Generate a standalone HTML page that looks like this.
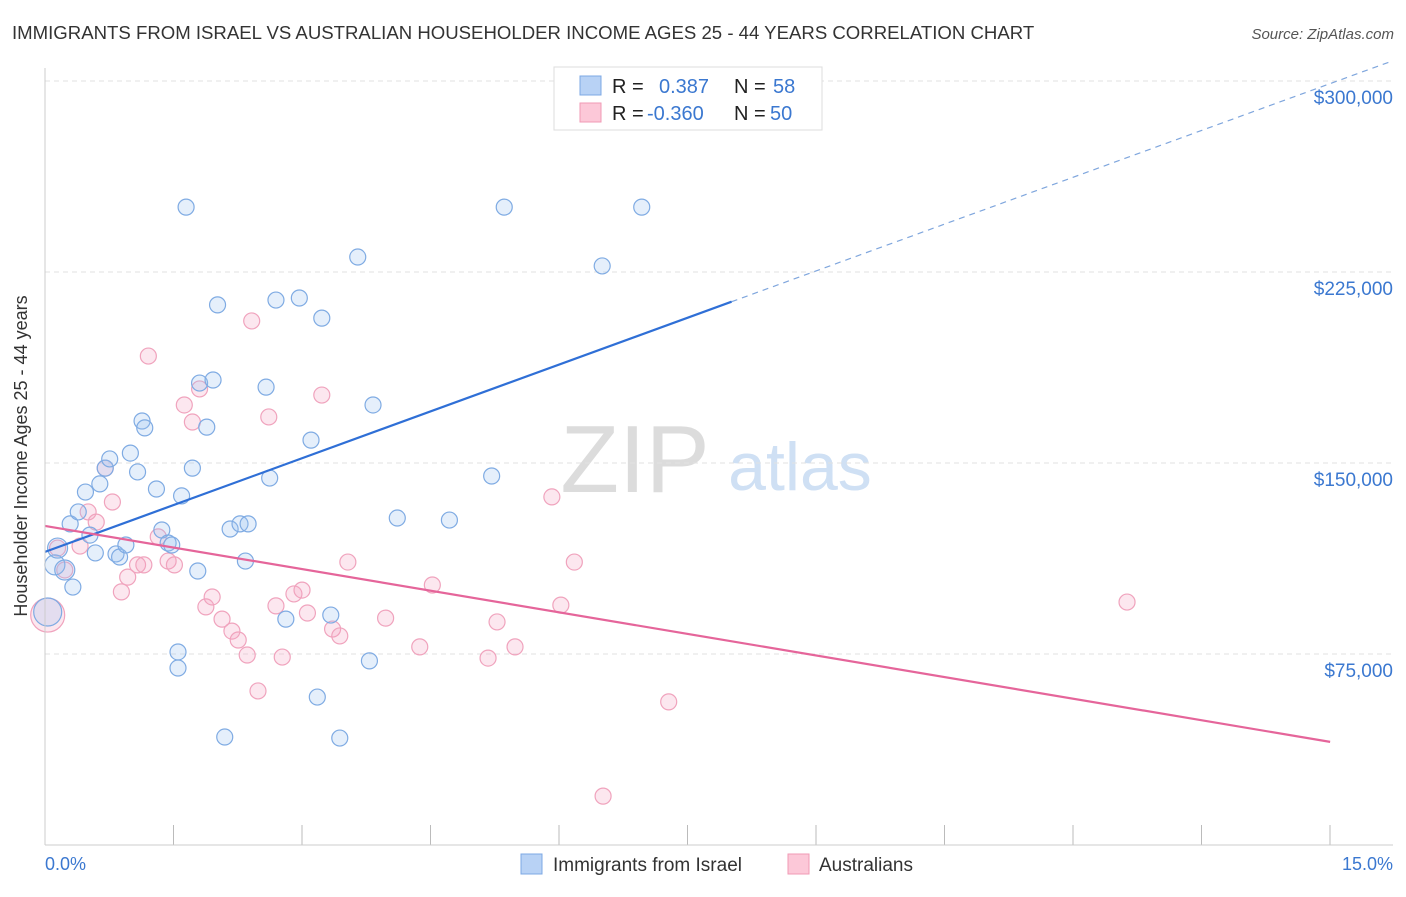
<!DOCTYPE html>
<html><head><meta charset="utf-8"><style>
body{margin:0;background:#fff;font-family:"Liberation Sans",sans-serif}
svg text{font-family:"Liberation Sans",sans-serif}
</style></head><body>
<svg id="c" width="1406" height="892" xmlns="http://www.w3.org/2000/svg">
<text x="12" y="39" font-size="18.6" fill="#333">IMMIGRANTS FROM ISRAEL VS AUSTRALIAN HOUSEHOLDER INCOME AGES 25 - 44 YEARS CORRELATION CHART</text>
<text x="1394" y="39" font-size="15" fill="#555" font-style="italic" text-anchor="end">Source: ZipAtlas.com</text>
<text x="635" y="492" font-size="96" fill="#dcdcdc" font-family="Liberation Serif" text-anchor="middle">ZIP</text>
<text x="800" y="490" font-size="68" fill="#cfe0f4" text-anchor="middle">atlas</text>
<g id="grid"></g><g id="pts"></g><g id="lines"></g>
<line x1="45" y1="845" x2="1393" y2="845" stroke="#ccc"/>
<line x1="45" y1="68" x2="45" y2="845" stroke="#ccc"/>
<text x="27" y="456" font-size="18" fill="#333" text-anchor="middle" transform="rotate(-90 27 456)">Householder Income Ages 25 - 44 years</text>
<text x="45" y="870" font-size="18" fill="#3b78d0">0.0%</text>
<text x="1393" y="870" font-size="18" fill="#3b78d0" text-anchor="end">15.0%</text>
<rect x="554" y="67" width="268" height="63" fill="#fff" stroke="#ddd"/>
<rect x="580" y="76" width="21" height="19" fill="#b8d2f5" stroke="#7ca8e4"/>
<rect x="580" y="103" width="21" height="19" fill="#fcc8d8" stroke="#f09ab5"/>
<g font-size="20">
<text x="612" y="93" fill="#222">R =</text><text x="659" y="93" fill="#3b78d0">0.387</text><text x="734" y="93" fill="#222">N =</text><text x="773" y="93" fill="#3b78d0">58</text>
<text x="612" y="120" fill="#222">R =</text><text x="647" y="120" fill="#3b78d0">-0.360</text><text x="734" y="120" fill="#222">N =</text><text x="770" y="120" fill="#3b78d0">50</text>
</g>
<rect x="521" y="854" width="21" height="20" fill="#b8d2f5" stroke="#7ca8e4"/>
<text x="553" y="871" font-size="19" fill="#333">Immigrants from Israel</text>
<rect x="788" y="854" width="21" height="20" fill="#fcc8d8" stroke="#f09ab5"/>
<text x="819" y="871" font-size="19" fill="#333">Australians</text>
</svg>
<script>
const yTicks=[75,150,225,300];
const yTickLabels=["$75,000","$150,000","$225,000","$300,000"];
const blueX=[0.11,0.14,0.22,0.28,0.31,0.37,0.45,0.50,0.56,0.61,0.67,0.72,0.79,0.83,0.90,0.95,1.03,1.08,1.11,1.24,1.30,1.37,1.41,1.48,1.52,1.57,1.64,1.70,1.72,1.80,1.87,1.92,2.00,2.06,2.17,2.26,2.23,2.46,2.50,2.57,2.68,2.83,2.96,3.03,3.08,3.18,3.28,3.48,3.61,3.65,3.92,4.50,4.97,5.11,6.20,6.64,0.03,1.48];
const blueY=[110.0,116.6,108.0,126.1,101.3,130.8,138.6,121.7,114.7,141.8,148.0,151.6,114.3,113.1,117.8,153.9,146.5,166.5,163.8,139.8,123.7,118.6,117.8,75.8,137.1,250.5,148.0,107.6,181.4,164.1,182.6,212.1,42.4,124.1,126.1,126.1,111.5,179.8,144.1,214.0,88.7,214.8,159.0,58.1,206.9,90.3,42.0,230.9,72.3,172.8,128.4,127.6,144.9,250.5,227.4,250.5,91.5,69.5];
const pinkX=[0.03,0.14,0.22,0.39,0.48,0.57,0.67,0.75,0.85,0.92,1.03,1.10,1.15,1.26,1.37,1.44,1.55,1.64,1.72,1.79,1.86,1.97,2.08,2.15,2.25,2.30,2.37,2.49,2.57,2.64,2.77,2.86,2.92,3.08,3.20,3.28,3.37,3.79,4.17,4.31,4.93,5.03,5.23,5.64,5.74,5.89,6.21,6.94,12.04];
const pinkY=[90.3,116.6,108.0,117.4,130.8,126.8,148.0,134.7,99.4,105.2,110.0,110.0,192.0,121.0,111.5,110.0,172.8,166.1,179.1,93.5,97.4,88.7,84.0,80.5,74.6,205.8,60.5,168.1,93.9,73.8,98.6,100.1,91.1,176.7,84.8,82.1,111.1,89.1,77.8,102.1,73.4,87.6,77.8,136.7,94.2,111.1,19.2,56.2,95.4];
const blueTrend=[115.1,12.86]; const pinkTrend=[125.3,-5.93];
const NS='http://www.w3.org/2000/svg';
const X=v=>45+v*89.87, Y=v=>845-v/0.3927;
function mk(t,a,p){const e=document.createElementNS(NS,t);for(const k in a)e.setAttribute(k,a[k]);p.appendChild(e);return e;}
const grid=document.getElementById('grid');
yTicks.forEach((t,i)=>{
 const l=mk('line',{x1:45,x2:1393,y1:Y(t),y2:Y(t),stroke:'#e2e2e2','stroke-dasharray':'5,4'},grid);
 
 
 const tx=mk('text',{x:1393,y:Y(t)+23,'font-size':19,fill:'#3b78d0','text-anchor':'end'},grid);
 tx.textContent=yTickLabels[i];
 
 
});
for(let i=0;i<=10;i++){
 const tk=mk('line',{x1:45+i*128.5,x2:45+i*128.5,y1:825,y2:845,stroke:'#bbb'},grid);
 
 
}
const pts=document.getElementById('pts');
pinkX.forEach((x,i)=>{
 const c=mk('circle',{cx:X(x),cy:Y(pinkY[i]),r:i===0?17:8,fill:'rgba(245,160,190,0.25)',stroke:'#f0a3bd','stroke-width':1.2},pts);
 
 
});
blueX.forEach((x,i)=>{
 const c=mk('circle',{cx:X(x),cy:Y(blueY[i]),r:i===56?14:(i<3?10:8),fill:'rgba(150,190,240,0.25)',stroke:'#7fabe3','stroke-width':1.2},pts);
 
 
});
const lines=document.getElementById('lines');
const bl=mk('line',{x1:X(0),y1:Y(blueTrend[0]),x2:X(7.64),y2:Y(blueTrend[0]+blueTrend[1]*7.64),stroke:'#2f6fd6','stroke-width':2.2},lines);


const bd=mk('line',{x1:X(7.64),y1:Y(blueTrend[0]+blueTrend[1]*7.64),x2:X(15),y2:Y(blueTrend[0]+blueTrend[1]*15),stroke:'#7fa6dd','stroke-width':1.2,'stroke-dasharray':'6,5'},lines);


const pl=mk('line',{x1:X(0),y1:Y(pinkTrend[0]),x2:X(14.3),y2:Y(pinkTrend[0]+pinkTrend[1]*14.3),stroke:'#e5659a','stroke-width':2.2},lines);


</script>
</body></html>
